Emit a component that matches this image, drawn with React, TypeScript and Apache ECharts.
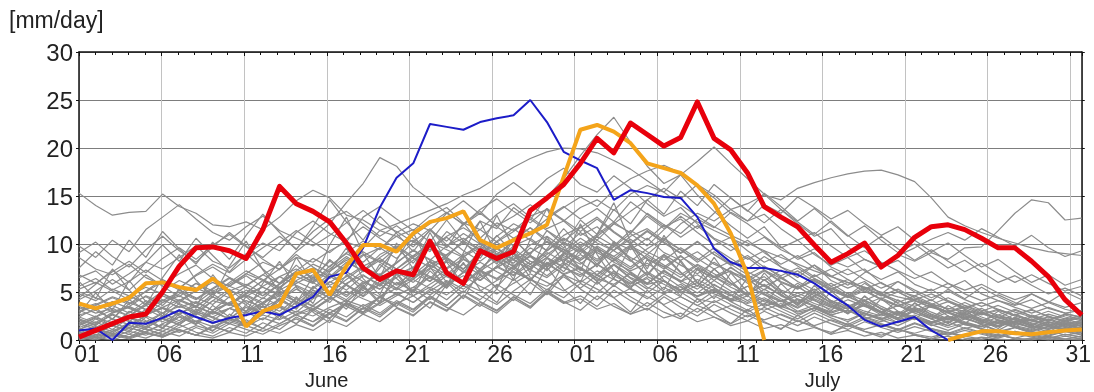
import React, { useEffect, useRef } from 'react';
import * as echarts from 'echarts';

const FONT = '"Liberation Sans", Arial, sans-serif';

// x tick labels (every 5 days), month names under the 16th
const dayTicks = ['01', '06', '11', '16', '21', '26', '01', '06', '11', '16', '21', '26', '31'];
const monthTicks: Record<number, string> = { 3: 'June', 9: 'July' };
const yUnit = '[mm/day]';

// Highlighted years (daily values, 1 June .. 31 July)
const red = [0.3, 1.0, 1.7, 2.4, 2.7, 5.0, 7.7, 9.6, 9.7, 9.3, 8.5, 11.5, 16.0, 14.2, 13.4, 12.3, 10.1, 7.5, 6.3, 7.2, 6.8, 10.3, 7.0, 5.9, 9.3, 8.5, 9.2, 13.5, 14.8, 16.2, 18.4, 21.0, 19.5, 22.6, 21.4, 20.2, 21.1, 24.8, 21.0, 19.8, 17.4, 13.9, 12.8, 11.8, 9.9, 8.1, 9.0, 10.1, 7.6, 8.8, 10.7, 11.8, 12.0, 11.5, 10.6, 9.6, 9.6, 8.2, 6.6, 4.2, 2.6];
const orange = [3.8, 3.3, 3.8, 4.4, 5.9, 6.0, 5.5, 5.2, 6.4, 5.0, 1.4, 3.0, 3.6, 6.9, 7.3, 4.7, 7.7, 9.9, 9.9, 9.2, 11.1, 12.3, 12.7, 13.4, 10.4, 9.6, 10.4, 11.1, 12.0, 17.0, 21.9, 22.4, 21.7, 20.5, 18.4, 17.9, 17.4, 16.1, 14.2, 11.1, 6.8, 0.0, null, null, null, null, null, null, null, null, null, null, 0.0, 0.5, 0.9, 0.9, 0.7, 0.6, 0.8, 1.0, 1.1];
const blue = [1.0, 1.2, 0.0, 1.8, 1.7, 2.3, 3.1, 2.4, 1.8, 2.3, 2.6, 3.0, 2.6, 3.5, 4.5, 6.6, 7.0, 9.6, 13.8, 16.9, 18.4, 22.5, 22.2, 21.9, 22.7, 23.1, 23.4, 25.0, 22.7, 19.6, 18.7, 17.9, 14.6, 15.6, 15.3, 14.9, 14.8, 12.8, 9.5, 8.1, 7.5, 7.5, 7.2, 6.8, 5.9, 4.7, 3.6, 2.1, 1.4, 1.9, 2.4, 1.0, 0.0, null, null, null, null, null, null, null, null];

// Other years (grey)
const g01 = [15.3, 14.0, 13.0, 13.3, 13.4, 15.2, 13.9, 13.2, 12.0, 11.8, 12.3, 11.5, 12.8, 14.5, 15.6, 14.8, 13.0, 12.5, 11.4, 10.8, 11.5, 10.2, 9.8, 10.6, 9.4, 8.8, 9.5, 8.2, 7.6, 8.4, 7.3, 6.8, 7.9, 6.5, 5.8, 6.2, 5.1, 4.6, 5.3, 4.2, 3.8, 4.4, 3.5, 2.9, 3.3, 2.6, 3.1, 2.4, 1.9, 2.6, 2.2, 1.8, 2.5, 1.6, 1.4, 2.1, 1.7, 1.3, 1.9, 1.5, 1.2];
const g02 = [9.8, 8.6, 10.4, 9.2, 11.5, 12.8, 14.1, 12.6, 11.2, 10.4, 11.8, 12.9, 11.4, 10.6, 9.8, 10.9, 12.2, 13.5, 12.1, 11.3, 10.2, 11.6, 9.9, 8.7, 9.6, 8.3, 7.4, 8.8, 7.9, 6.9, 7.6, 6.4, 5.8, 6.9, 5.5, 4.8, 5.6, 4.3, 3.9, 4.7, 3.6, 3.1, 3.8, 2.7, 3.3, 2.5, 2.1, 2.8, 2.3, 1.8, 2.4, 1.9, 1.5, 2.2, 1.7, 1.4, 1.9, 1.3, 1.6, 1.1, 1.4];
const g03 = [6.5, 7.2, 5.8, 6.9, 8.1, 7.4, 8.6, 9.8, 8.2, 7.5, 8.9, 10.1, 9.3, 11.2, 12.4, 11.1, 10.2, 12.8, 13.9, 12.6, 11.4, 12.9, 13.8, 12.2, 11.5, 13.1, 14.2, 12.8, 11.6, 12.4, 10.9, 11.8, 10.2, 9.4, 10.6, 9.1, 8.3, 9.2, 7.9, 7.1, 6.4, 7.3, 6.1, 5.4, 6.2, 5.1, 4.5, 5.3, 4.2, 3.6, 4.1, 3.4, 2.9, 3.6, 2.8, 2.3, 3.1, 2.5, 2.1, 2.7, 2.4];
const g04 = [2.1, 1.5, 2.8, 3.4, 2.6, 3.9, 4.6, 3.8, 5.1, 4.4, 5.6, 6.8, 5.9, 7.2, 8.5, 7.6, 9.1, 10.3, 9.4, 11.2, 12.1, 11.4, 13.2, 14.5, 13.1, 15.2, 16.4, 15.1, 16.8, 17.9, 16.2, 15.4, 17.1, 15.8, 14.2, 12.9, 13.8, 12.1, 10.6, 9.8, 8.4, 9.3, 7.6, 6.9, 7.8, 6.2, 5.4, 6.1, 4.8, 4.1, 3.5, 4.2, 3.1, 2.6, 3.3, 2.4, 1.9, 2.6, 2.1, 1.6, 1.9];
const g05 = [3.2, 3.8, 2.9, 3.5, 4.6, 3.9, 4.8, 5.9, 5.1, 5.8, 6.9, 6.2, 7.4, 8.6, 8.1, 9.3, 10.2, 9.6, 11.4, 12.1, 12.8, 13.5, 14.2, 15.1, 15.8, 16.9, 18.0, 18.9, 19.6, 20.0, 19.9, 19.5, 18.7, 17.8, 16.6, 15.4, 14.1, 12.9, 11.8, 10.9, 10.1, 9.3, 8.6, 7.9, 7.2, 6.6, 6.0, 5.5, 5.0, 4.5, 4.1, 3.7, 3.3, 3.0, 2.7, 2.4, 2.2, 2.0, 1.8, 1.6, 1.5];
const g06 = [1.2, 0.8, 1.6, 2.3, 1.9, 2.8, 3.5, 2.9, 4.1, 3.6, 4.8, 5.5, 4.6, 6.2, 7.1, 6.4, 7.8, 8.9, 8.1, 9.6, 10.4, 9.2, 11.3, 10.1, 12.4, 11.6, 13.8, 12.5, 14.9, 16.8, 19.2, 21.4, 23.2, 20.6, 18.1, 16.3, 17.2, 15.1, 13.4, 11.9, 10.6, 11.8, 9.7, 8.4, 9.1, 7.6, 6.8, 7.4, 5.9, 5.1, 4.6, 5.3, 4.1, 3.4, 3.9, 3.1, 2.6, 3.2, 2.4, 2.0, 2.3];
const g07 = [0.5, 1.1, 0.7, 1.8, 1.3, 2.2, 1.6, 2.9, 2.4, 3.3, 2.8, 3.9, 4.6, 3.7, 5.2, 4.4, 5.9, 6.8, 5.6, 7.3, 6.5, 7.9, 8.6, 7.4, 9.2, 8.1, 9.8, 10.6, 9.3, 10.9, 11.8, 10.4, 12.1, 11.2, 12.9, 11.6, 13.2, 12.3, 11.4, 10.6, 9.8, 10.7, 9.4, 8.6, 9.5, 8.3, 7.6, 8.4, 7.7, 8.9, 8.2, 9.1, 8.4, 9.6, 9.7, 11.4, 13.2, 14.6, 14.3, 12.5, 12.7];
const g08 = [1.8, 2.5, 1.4, 2.9, 3.6, 2.8, 4.1, 3.4, 4.8, 5.6, 4.9, 6.2, 5.4, 6.8, 7.5, 6.6, 8.1, 7.2, 8.9, 9.8, 8.7, 10.2, 9.4, 8.6, 10.1, 9.2, 8.4, 9.9, 10.8, 9.6, 11.2, 10.1, 9.3, 10.8, 11.6, 10.4, 12.1, 13.2, 12.4, 13.6, 14.2, 15.1, 14.6, 15.8, 16.4, 16.9, 17.3, 17.6, 17.7, 17.2, 16.5, 14.8, 12.8, 11.9, 11.2, 10.6, 10.1, 9.6, 9.2, 9.0, 8.8];
const g09 = [2.6, 3.1, 2.2, 3.8, 4.5, 3.6, 5.2, 4.4, 3.7, 5.1, 5.8, 4.9, 6.6, 7.4, 6.5, 8.2, 7.3, 8.8, 9.6, 8.5, 10.2, 9.4, 10.8, 11.7, 10.6, 12.2, 11.4, 12.9, 13.6, 12.4, 13.8, 14.6, 13.5, 15.2, 16.1, 15.4, 17.2, 18.6, 20.1, 18.4, 16.8, 15.2, 13.6, 12.1, 10.8, 11.6, 9.7, 8.4, 7.6, 8.3, 6.9, 6.1, 5.4, 6.2, 4.8, 4.1, 3.6, 4.2, 3.3, 2.8, 3.1];
const g10 = [0.3, 0.9, 0.4, 1.3, 0.8, 1.7, 2.4, 1.6, 2.9, 2.2, 3.4, 2.7, 4.1, 3.3, 4.8, 5.6, 4.5, 6.1, 5.3, 6.8, 7.6, 6.4, 8.2, 7.1, 8.8, 9.6, 8.4, 9.1, 10.3, 9.2, 10.6, 9.5, 8.7, 9.9, 8.4, 7.6, 8.8, 7.3, 6.5, 7.2, 5.9, 6.6, 5.2, 4.6, 5.3, 4.1, 3.5, 4.2, 3.2, 2.7, 3.3, 2.5, 2.1, 2.8, 1.9, 1.5, 2.2, 1.4, 1.1, 1.6, 1.2];
const g11 = [4.8, 4.1, 5.3, 4.6, 3.8, 5.1, 6.2, 5.4, 4.7, 6.0, 7.2, 6.3, 5.5, 6.8, 7.9, 7.1, 8.5, 7.6, 6.8, 8.1, 9.3, 8.4, 7.5, 8.9, 9.8, 8.6, 7.7, 9.1, 10.2, 9.4, 8.3, 9.6, 8.5, 7.4, 8.7, 7.6, 6.5, 7.8, 6.6, 5.7, 6.8, 5.6, 4.7, 5.9, 4.8, 3.9, 4.6, 3.7, 2.9, 3.6, 2.8, 2.2, 2.9, 2.3, 1.7, 2.4, 1.8, 1.3, 1.9, 1.4, 1.0];
const g12 = [1.5, 2.3, 1.8, 1.2, 2.6, 3.3, 2.5, 1.9, 3.1, 3.8, 3.0, 4.4, 3.6, 2.9, 4.3, 5.1, 4.2, 5.8, 6.9, 5.7, 6.4, 7.5, 6.6, 5.8, 7.2, 8.3, 7.1, 6.3, 7.8, 8.6, 7.4, 6.5, 7.9, 6.8, 5.9, 7.1, 6.2, 5.3, 6.6, 5.5, 4.7, 5.8, 4.6, 3.8, 4.9, 3.9, 3.2, 4.1, 3.3, 2.6, 3.4, 2.7, 2.1, 2.9, 2.2, 1.7, 2.3, 1.8, 1.4, 2.0, 1.6];
const g13 = [0.0, 0.4, 1.1, 0.6, 1.4, 0.9, 1.8, 2.5, 1.7, 2.3, 1.6, 2.8, 3.5, 2.6, 3.2, 4.4, 3.6, 4.9, 5.8, 4.7, 5.5, 6.6, 5.4, 7.1, 6.2, 7.6, 8.4, 7.3, 6.5, 7.8, 8.9, 7.8, 9.4, 10.5, 9.2, 8.3, 9.6, 8.5, 7.4, 8.2, 7.1, 6.2, 7.3, 6.1, 5.2, 5.9, 4.8, 4.1, 4.9, 3.8, 3.1, 3.7, 2.9, 2.3, 2.8, 2.1, 1.6, 2.2, 1.5, 1.2, 0.9];
const g14 = [8.6, 7.4, 6.8, 7.9, 6.5, 5.7, 6.9, 7.8, 6.4, 5.6, 6.7, 5.5, 4.8, 5.9, 6.8, 5.7, 6.6, 7.7, 8.5, 7.4, 8.8, 9.9, 8.6, 10.4, 11.5, 10.2, 11.3, 12.6, 11.4, 10.3, 11.7, 12.8, 11.3, 10.1, 11.4, 10.2, 9.1, 10.3, 8.9, 7.8, 8.6, 7.3, 6.4, 7.2, 6.1, 5.3, 6.0, 5.1, 4.3, 5.0, 4.1, 3.4, 4.0, 3.2, 2.6, 3.1, 2.5, 2.0, 2.4, 1.9, 1.5];
const g15 = [3.5, 2.8, 3.3, 2.5, 3.6, 4.2, 3.4, 4.0, 3.1, 3.9, 4.6, 3.7, 5.1, 4.3, 3.6, 4.8, 5.7, 4.9, 6.1, 5.2, 6.3, 5.4, 6.7, 7.9, 6.8, 7.5, 8.7, 7.6, 8.9, 10.1, 9.0, 10.4, 9.3, 8.2, 9.5, 10.6, 9.4, 8.1, 9.2, 7.9, 6.8, 7.7, 6.5, 5.4, 6.3, 5.2, 4.4, 5.1, 4.2, 3.5, 4.3, 3.6, 2.9, 3.4, 2.7, 3.2, 2.6, 2.1, 2.7, 2.2, 2.5];
const g16 = [0.8, 0.3, 0.9, 1.5, 1.1, 0.6, 1.3, 2.0, 1.4, 2.2, 1.8, 2.6, 2.1, 3.0, 2.5, 3.4, 4.1, 3.5, 4.4, 3.8, 4.6, 5.5, 4.7, 5.9, 5.1, 6.2, 7.1, 6.3, 5.6, 6.8, 6.0, 7.2, 6.3, 5.5, 6.6, 5.8, 4.9, 5.7, 4.8, 4.1, 4.9, 4.0, 3.4, 4.2, 3.5, 2.8, 3.4, 2.7, 2.1, 2.8, 2.2, 1.7, 2.3, 1.6, 1.2, 1.8, 1.3, 0.9, 1.4, 1.0, 0.7];
const g17 = [2.9, 3.6, 4.4, 3.7, 5.1, 6.3, 5.4, 6.8, 7.9, 7.0, 8.4, 9.6, 10.8, 9.5, 11.3, 12.6, 13.4, 12.1, 10.8, 11.9, 10.6, 9.4, 10.7, 9.3, 8.2, 9.5, 8.3, 7.4, 8.6, 7.5, 6.8, 7.9, 6.7, 5.8, 6.9, 6.1, 5.2, 6.0, 5.1, 4.3, 5.0, 4.2, 3.5, 4.3, 3.6, 2.9, 3.6, 2.8, 2.2, 2.9, 2.3, 1.8, 2.5, 1.9, 1.4, 2.0, 1.5, 1.1, 1.7, 1.3, 1.0];
const g18 = [5.6, 6.4, 5.2, 6.1, 7.3, 6.2, 5.4, 6.7, 7.6, 6.5, 5.7, 6.8, 7.9, 6.6, 5.9, 7.2, 8.3, 7.1, 8.6, 9.7, 8.5, 7.6, 8.9, 10.1, 9.0, 10.3, 11.6, 10.4, 9.3, 10.6, 9.5, 8.4, 9.8, 8.6, 7.7, 8.9, 7.8, 6.9, 8.1, 7.0, 6.1, 7.2, 6.0, 5.3, 6.4, 5.4, 4.6, 5.5, 4.7, 3.9, 4.6, 3.8, 3.2, 3.9, 3.1, 2.6, 3.2, 2.5, 2.0, 2.6, 2.1];
const g19 = [0.2, 0.6, 0.3, 0.9, 0.5, 1.2, 0.8, 1.5, 1.0, 1.9, 1.4, 2.3, 1.7, 2.7, 3.5, 2.8, 3.9, 3.2, 4.5, 5.4, 4.6, 5.8, 6.9, 5.9, 7.2, 6.3, 7.6, 8.7, 7.8, 9.0, 10.2, 9.1, 8.2, 9.6, 8.5, 7.4, 8.7, 7.6, 6.6, 7.5, 6.5, 5.6, 6.4, 5.5, 4.6, 5.4, 4.5, 3.7, 4.4, 3.6, 2.9, 3.5, 2.8, 2.2, 2.9, 2.3, 1.8, 2.4, 1.9, 1.4, 1.8];
const g20 = [6.8, 5.9, 7.1, 8.2, 7.0, 8.5, 9.6, 8.4, 9.9, 11.0, 9.7, 8.6, 10.1, 11.4, 10.2, 9.1, 10.5, 11.8, 10.6, 9.5, 10.9, 12.1, 13.3, 12.0, 13.6, 14.7, 13.4, 12.2, 13.7, 12.5, 11.3, 12.6, 11.2, 10.0, 11.3, 10.1, 9.0, 10.2, 8.9, 7.9, 8.8, 7.6, 6.7, 7.5, 6.4, 5.6, 6.3, 5.4, 4.6, 5.3, 4.4, 3.7, 4.4, 3.6, 3.0, 3.6, 2.9, 2.4, 3.0, 2.4, 2.0];
const g21 = [1.9, 1.3, 2.2, 1.6, 2.5, 1.9, 2.8, 3.5, 2.7, 3.3, 4.1, 3.4, 4.2, 5.3, 4.4, 5.6, 4.7, 5.9, 6.8, 5.8, 7.0, 6.1, 7.4, 8.5, 7.3, 6.4, 7.7, 8.8, 7.6, 8.9, 9.8, 11.0, 12.3, 11.1, 13.2, 12.0, 10.7, 11.9, 10.5, 9.3, 10.4, 9.1, 7.9, 8.8, 7.5, 6.6, 7.4, 6.3, 5.4, 6.1, 5.2, 4.4, 5.1, 4.2, 3.5, 4.1, 3.4, 2.8, 3.4, 2.8, 2.3];
const g22 = [3.8, 3.1, 4.0, 3.3, 2.6, 3.4, 2.7, 3.6, 4.5, 3.7, 3.0, 3.9, 4.8, 4.0, 3.2, 4.2, 5.1, 4.3, 3.6, 4.6, 5.5, 4.7, 5.8, 6.7, 5.6, 4.8, 5.9, 6.9, 6.0, 5.1, 6.2, 5.3, 4.4, 5.4, 4.5, 3.7, 4.5, 3.6, 2.9, 3.6, 2.8, 2.1, 2.7, 2.0, 1.5, 2.1, 1.6, 1.1, 1.6, 1.1, 0.7, 1.2, 0.8, 0.4, 0.9, 0.5, 0.2, 0.6, 0.3, 0.1, 0.4];
const g23 = [2.4, 1.8, 2.9, 3.5, 2.7, 3.4, 4.2, 3.5, 2.8, 3.9, 4.7, 3.9, 5.2, 6.1, 5.3, 6.6, 5.8, 7.2, 8.3, 7.4, 8.6, 9.7, 8.8, 10.3, 9.4, 10.8, 12.1, 11.2, 12.6, 13.8, 14.9, 13.9, 15.6, 16.8, 17.6, 18.2, 17.4, 16.1, 14.8, 13.2, 12.1, 10.8, 9.6, 10.4, 8.9, 7.8, 8.6, 7.2, 6.3, 7.1, 5.8, 5.1, 5.9, 4.8, 4.1, 4.7, 3.9, 3.3, 3.9, 3.2, 2.8];
const g24 = [0.6, 1.2, 0.7, 0.3, 0.9, 1.6, 1.0, 0.5, 1.3, 2.1, 1.5, 0.9, 1.7, 2.6, 1.9, 2.8, 3.7, 2.9, 3.9, 4.8, 3.9, 5.1, 6.2, 5.3, 6.5, 7.6, 6.7, 7.9, 9.1, 8.2, 9.6, 10.8, 12.1, 13.4, 14.6, 15.8, 14.7, 16.2, 15.1, 13.6, 12.4, 13.1, 11.6, 10.4, 11.2, 9.8, 8.6, 9.3, 8.1, 7.2, 6.4, 7.1, 5.9, 5.2, 5.8, 4.9, 4.2, 4.8, 4.0, 3.4, 3.9];
const g25 = [1.6, 2.4, 3.1, 2.5, 3.8, 4.6, 3.9, 5.2, 6.3, 5.6, 6.9, 8.1, 7.4, 9.2, 10.6, 12.1, 14.3, 16.3, 19.0, 18.1, 15.9, 14.6, 13.2, 12.1, 13.4, 11.8, 10.6, 11.7, 10.2, 9.1, 8.3, 9.4, 8.1, 7.2, 8.0, 6.9, 6.1, 6.8, 5.7, 4.9, 5.6, 4.7, 4.0, 4.6, 3.8, 3.2, 3.7, 3.0, 2.5, 3.0, 2.4, 1.9, 2.4, 1.8, 1.4, 1.9, 1.4, 1.0, 1.4, 1.1, 0.8];
const g26 = [0.1, 0.5, 1.6, 0.8, 2.4, 1.2, 3.1, 1.9, 0.9, 2.7, 1.5, 3.6, 2.2, 4.5, 2.9, 1.8, 3.9, 5.6, 3.8, 6.9, 4.6, 3.3, 5.8, 8.1, 5.2, 3.9, 6.4, 4.7, 7.6, 5.3, 3.8, 6.1, 4.4, 2.9, 5.2, 3.6, 2.4, 4.3, 2.8, 1.7, 3.2, 1.9, 1.1, 2.6, 1.4, 0.6, 1.8, 0.9, 0.3, 1.2, 0.5, 0.1, 0.8, 0.2, 0.0, 0.6, 0.1, 0.0, 0.4, 0.0, 0.2];
const g27 = [2.4, 3.3, 2.1, 4.2, 3.1, 4.9, 3.7, 2.6, 4.1, 5.3, 3.9, 2.7, 4.4, 3.2, 5.6, 4.3, 6.8, 5.1, 7.9, 6.4, 4.9, 7.2, 5.6, 8.8, 6.9, 9.7, 7.8, 6.1, 8.5, 7.1, 9.4, 7.6, 10.3, 8.4, 6.8, 8.9, 7.1, 5.6, 7.4, 5.9, 4.7, 6.3, 4.8, 3.6, 5.1, 3.8, 2.7, 4.0, 2.9, 2.1, 3.1, 2.2, 1.5, 2.4, 1.6, 1.0, 1.9, 1.2, 0.7, 1.3, 0.9];
const g28 = [4.2, 5.1, 6.3, 5.2, 6.8, 5.6, 4.5, 5.9, 4.8, 3.7, 4.9, 6.2, 5.1, 4.0, 5.4, 6.9, 5.7, 4.5, 5.8, 7.1, 6.0, 7.4, 8.6, 7.3, 6.2, 7.7, 9.1, 7.9, 6.7, 8.1, 7.0, 5.8, 7.2, 6.1, 4.9, 6.2, 5.0, 3.9, 5.1, 4.0, 3.1, 4.2, 3.3, 2.5, 3.4, 2.6, 1.9, 2.8, 2.1, 1.5, 2.3, 1.6, 1.0, 1.7, 1.1, 0.7, 1.3, 0.8, 0.4, 0.9, 0.5];
const g29 = [0.9, 0.2, 0.7, 0.3, 1.2, 0.5, 1.6, 0.8, 0.4, 1.3, 0.7, 1.8, 1.1, 2.4, 1.5, 2.9, 2.0, 3.4, 2.6, 3.9, 3.1, 4.5, 3.6, 5.1, 4.2, 5.8, 4.7, 3.8, 5.3, 4.4, 5.9, 4.9, 6.4, 5.3, 4.3, 5.5, 4.5, 3.6, 4.6, 3.7, 2.9, 3.8, 3.0, 2.2, 3.1, 2.3, 1.6, 2.4, 1.7, 1.1, 1.8, 1.2, 0.7, 1.3, 0.8, 0.4, 0.9, 0.5, 0.2, 0.6, 0.3];
const g30 = [9.1, 10.2, 8.7, 7.6, 9.4, 10.8, 9.3, 8.1, 9.7, 11.2, 9.8, 8.4, 7.3, 8.9, 7.6, 6.5, 7.8, 9.2, 8.1, 7.0, 8.3, 9.7, 8.5, 7.4, 8.8, 10.2, 9.0, 7.9, 9.3, 10.6, 9.4, 8.2, 9.7, 11.1, 9.8, 11.5, 12.9, 11.6, 13.2, 14.8, 13.5, 12.2, 13.6, 12.3, 11.0, 12.4, 10.9, 9.6, 10.8, 9.5, 8.3, 9.4, 8.2, 7.1, 8.0, 6.9, 6.0, 6.8, 5.9, 5.1, 5.6];
const g31 = [1.3, 1.9, 1.1, 2.3, 1.6, 2.8, 2.0, 3.2, 2.4, 1.7, 2.6, 3.5, 2.7, 3.9, 3.0, 4.4, 3.5, 2.7, 3.8, 4.9, 3.9, 5.3, 4.2, 5.7, 4.6, 3.7, 5.1, 6.3, 5.2, 6.6, 5.4, 6.8, 5.6, 7.1, 5.9, 7.3, 6.1, 7.5, 6.2, 7.6, 6.3, 5.2, 6.6, 5.4, 6.8, 5.6, 4.6, 5.9, 4.8, 6.1, 5.0, 4.1, 5.3, 4.3, 5.5, 4.5, 3.7, 4.8, 3.9, 5.0, 4.2];
const g32 = [7.5, 9.2, 7.8, 10.4, 8.6, 11.3, 9.5, 7.9, 10.2, 8.4, 10.9, 13.1, 11.2, 9.4, 11.8, 14.6, 12.3, 10.4, 12.9, 11.1, 9.2, 11.5, 9.6, 12.2, 10.1, 8.4, 10.6, 8.7, 7.2, 9.1, 7.5, 6.2, 7.8, 6.4, 5.3, 6.7, 5.5, 4.5, 5.8, 4.7, 3.9, 5.0, 4.1, 3.3, 4.3, 3.5, 2.8, 3.7, 2.9, 2.3, 3.0, 2.4, 1.8, 2.5, 1.9, 1.4, 2.0, 1.5, 1.1, 1.6, 1.2];
const g33 = [0.4, 0.1, 0.6, 0.2, 0.8, 0.3, 1.1, 0.5, 1.5, 0.8, 2.1, 1.2, 2.7, 1.7, 3.3, 2.3, 3.9, 2.9, 4.6, 3.5, 5.3, 4.2, 6.1, 4.9, 6.8, 5.5, 7.4, 6.2, 8.1, 6.8, 7.5, 6.1, 7.0, 5.6, 6.4, 5.0, 5.8, 4.5, 5.2, 4.0, 4.6, 3.5, 4.1, 3.0, 3.6, 2.6, 3.1, 2.2, 2.7, 1.8, 2.3, 1.5, 1.9, 1.2, 1.6, 0.9, 1.3, 0.7, 1.0, 0.5, 0.8];
const g34 = [3.1, 2.4, 3.6, 2.8, 4.1, 3.3, 2.6, 3.9, 3.1, 4.5, 3.7, 5.0, 4.1, 5.6, 4.6, 6.1, 5.2, 6.7, 5.8, 7.2, 6.3, 7.8, 6.8, 8.4, 7.4, 9.0, 8.0, 9.6, 8.6, 10.2, 9.2, 10.8, 9.8, 11.4, 10.4, 12.0, 11.1, 12.6, 11.7, 13.3, 12.4, 14.1, 13.2, 14.9, 13.8, 12.6, 13.5, 12.1, 10.9, 11.8, 10.4, 9.2, 10.1, 8.8, 7.6, 8.4, 7.1, 6.0, 6.8, 5.7, 6.3];
const g35 = [0.7, 1.4, 0.9, 1.8, 1.2, 2.3, 1.6, 2.8, 2.0, 3.3, 2.5, 3.8, 3.0, 4.3, 3.5, 4.9, 4.0, 5.4, 4.5, 6.0, 5.1, 6.6, 5.6, 7.1, 6.2, 7.7, 6.8, 8.2, 7.3, 8.8, 7.9, 9.3, 8.4, 9.8, 8.9, 10.4, 9.4, 8.3, 9.6, 8.5, 7.4, 8.7, 7.6, 6.5, 7.8, 6.7, 5.7, 7.0, 7.9, 8.8, 9.6, 10.5, 11.2, 10.4, 11.6, 10.7, 9.8, 10.9, 9.6, 8.7, 9.3];
const g36 = [2.2, 1.6, 2.7, 2.0, 1.4, 2.5, 1.8, 3.0, 2.3, 1.7, 2.9, 2.1, 3.4, 2.6, 1.9, 3.2, 2.4, 3.7, 2.8, 4.1, 3.2, 4.6, 3.6, 5.1, 4.0, 3.1, 4.5, 3.4, 4.9, 3.8, 4.3, 3.2, 3.8, 2.7, 3.3, 2.3, 2.8, 1.9, 2.4, 1.5, 2.0, 1.2, 1.6, 0.9, 1.3, 0.6, 1.0, 0.4, 0.8, 0.2, 0.5, 0.1, 0.4, 0.0, 0.3, 0.1, 0.0, 0.2, 0.0, 0.1, 0.0];
const g37 = [1.1, 1.7, 2.6, 1.9, 3.2, 2.4, 3.8, 3.0, 4.5, 3.6, 5.2, 4.3, 5.9, 7.1, 6.0, 7.7, 9.0, 8.1, 9.6, 10.8, 9.7, 11.4, 10.3, 12.0, 13.2, 11.9, 12.9, 14.1, 12.8, 13.9, 12.6, 13.7, 12.3, 14.4, 13.1, 11.8, 12.6, 11.2, 9.9, 10.7, 9.3, 8.1, 8.9, 7.7, 6.6, 7.4, 6.3, 5.3, 6.0, 5.0, 4.2, 4.8, 4.0, 3.3, 3.9, 3.2, 2.6, 3.1, 2.5, 2.0, 2.4];
const g38 = [5.0, 4.4, 3.7, 4.6, 5.5, 4.8, 4.1, 5.1, 6.0, 5.2, 4.5, 5.6, 6.6, 5.7, 4.9, 6.0, 7.1, 6.1, 5.3, 6.5, 7.6, 6.6, 5.8, 7.0, 8.1, 7.1, 6.2, 7.5, 8.6, 7.6, 6.6, 7.9, 6.9, 5.9, 7.1, 6.1, 5.2, 6.3, 5.4, 4.6, 5.6, 4.8, 4.0, 4.9, 4.1, 3.4, 4.2, 3.5, 2.9, 3.6, 3.0, 2.4, 3.1, 2.5, 2.0, 2.6, 2.1, 1.6, 2.2, 1.7, 2.0];
const g39 = [0.0, 0.3, 0.0, 0.6, 0.2, 0.9, 0.4, 1.3, 0.7, 1.7, 1.1, 0.6, 1.5, 2.2, 1.4, 2.7, 1.9, 3.3, 2.4, 3.8, 2.9, 4.4, 3.4, 2.6, 3.9, 3.0, 4.5, 3.5, 5.1, 4.0, 3.1, 4.6, 3.5, 2.7, 3.9, 2.9, 2.2, 3.3, 2.4, 1.7, 2.6, 1.8, 1.2, 2.0, 1.3, 0.8, 1.5, 0.9, 0.5, 1.1, 0.6, 0.3, 0.8, 0.4, 0.1, 0.5, 0.2, 0.0, 0.3, 0.1, 0.0];
const g40 = [3.0, 3.7, 4.5, 3.9, 3.2, 4.1, 5.0, 4.2, 5.3, 6.4, 5.5, 4.6, 5.8, 7.0, 6.1, 7.4, 8.7, 7.6, 6.7, 8.0, 9.4, 8.3, 9.8, 11.1, 10.0, 8.9, 10.3, 11.7, 10.5, 9.4, 8.5, 9.8, 8.7, 7.6, 8.9, 7.8, 6.8, 7.9, 6.9, 5.9, 4.8, 5.7, 4.7, 3.8, 4.6, 3.7, 2.9, 3.6, 2.8, 2.1, 2.6, 1.9, 1.3, 1.8, 1.2, 0.8, 1.3, 0.9, 0.5, 0.9, 0.6];
const g41 = [2.7, 4.9, 3.1, 6.2, 4.0, 2.5, 5.4, 3.3, 6.8, 4.6, 2.9, 5.9, 8.2, 5.5, 3.8, 7.1, 9.6, 6.4, 4.7, 8.3, 11.2, 7.6, 5.4, 9.1, 12.4, 8.8, 6.3, 10.5, 13.7, 9.9, 7.2, 11.0, 14.3, 10.2, 7.4, 10.9, 8.1, 5.9, 8.6, 6.2, 4.5, 7.0, 5.1, 3.6, 5.7, 4.0, 2.8, 4.6, 3.2, 2.2, 3.9, 2.6, 1.7, 3.1, 2.0, 1.2, 2.4, 1.5, 0.8, 1.8, 1.1];
const g42 = [6.1, 4.3, 7.4, 5.2, 3.6, 6.5, 8.9, 6.2, 4.4, 7.7, 10.3, 7.3, 5.1, 8.6, 6.0, 9.9, 12.8, 9.0, 6.5, 10.1, 7.4, 11.2, 8.1, 5.8, 9.5, 13.0, 9.6, 7.0, 10.8, 8.0, 12.1, 8.9, 6.4, 9.8, 7.1, 5.2, 8.3, 6.0, 4.3, 7.0, 5.0, 3.6, 5.9, 4.2, 3.0, 5.1, 3.6, 2.5, 4.3, 3.0, 2.1, 3.7, 2.5, 1.7, 3.0, 2.0, 1.3, 2.5, 1.6, 1.0, 1.9];
const g43 = [1.0, 2.2, 1.4, 3.0, 2.0, 1.2, 2.7, 1.7, 3.6, 2.4, 4.5, 3.0, 5.5, 3.8, 6.6, 4.6, 3.2, 5.7, 4.0, 7.0, 5.0, 8.3, 6.0, 4.3, 7.3, 5.3, 9.0, 6.5, 4.8, 8.0, 6.0, 9.7, 7.2, 5.3, 8.4, 6.2, 4.6, 7.4, 5.5, 4.0, 6.5, 4.8, 3.5, 5.7, 4.2, 3.0, 4.9, 3.6, 2.6, 4.2, 3.1, 2.2, 3.6, 2.6, 1.8, 3.0, 2.1, 1.4, 2.5, 1.8, 1.2];
const g44 = [4.4, 5.8, 7.3, 6.0, 8.1, 9.9, 8.2, 10.6, 8.8, 7.1, 9.0, 7.4, 5.9, 7.8, 6.3, 8.4, 6.9, 5.5, 7.5, 9.6, 8.0, 10.2, 12.5, 10.3, 8.5, 10.9, 9.0, 7.3, 9.5, 11.6, 9.7, 7.9, 10.1, 8.3, 6.7, 8.7, 7.0, 5.6, 7.4, 5.9, 4.7, 6.3, 5.0, 3.9, 5.3, 4.1, 3.2, 4.5, 3.5, 2.7, 3.8, 2.9, 2.2, 3.2, 2.4, 1.8, 2.7, 2.0, 1.5, 2.2, 1.7];
const g45 = [0.5, 0.9, 1.5, 1.0, 1.9, 1.3, 2.4, 1.7, 3.0, 2.2, 3.6, 2.7, 4.3, 3.3, 5.0, 3.9, 5.8, 4.6, 6.6, 5.3, 7.5, 6.1, 8.4, 7.0, 9.4, 7.9, 10.4, 8.9, 11.4, 9.9, 12.5, 11.0, 13.6, 12.1, 14.6, 13.1, 15.5, 14.0, 16.2, 14.8, 13.4, 15.3, 13.9, 12.4, 13.7, 12.2, 10.8, 11.9, 10.4, 9.1, 10.0, 8.7, 7.5, 8.3, 7.1, 6.0, 6.7, 5.7, 4.8, 5.4, 4.6];
const g46 = [1.7, 1.1, 0.6, 1.3, 0.8, 0.4, 1.0, 0.5, 1.4, 0.9, 1.9, 1.2, 2.5, 1.7, 3.1, 2.2, 3.8, 2.8, 4.5, 3.4, 2.6, 3.9, 3.0, 4.6, 3.5, 5.3, 4.1, 6.0, 4.7, 6.8, 5.3, 4.2, 5.7, 4.5, 3.5, 4.8, 3.8, 2.9, 4.1, 3.2, 2.4, 3.4, 2.6, 1.9, 2.8, 2.0, 1.4, 2.2, 1.6, 1.0, 1.7, 1.1, 0.6, 1.2, 0.7, 0.3, 0.9, 0.4, 0.1, 0.6, 0.3];
const g47 = [5.3, 6.0, 5.1, 4.2, 5.0, 6.1, 5.2, 4.3, 5.4, 6.5, 5.5, 4.6, 5.8, 7.0, 6.0, 5.0, 6.3, 7.6, 6.5, 5.4, 6.8, 8.2, 7.0, 5.9, 7.4, 8.9, 7.6, 6.3, 7.9, 9.5, 8.1, 6.8, 8.4, 7.0, 5.8, 7.2, 6.0, 4.9, 6.2, 5.1, 4.1, 5.3, 4.3, 3.4, 4.5, 3.6, 2.8, 3.8, 3.0, 2.3, 3.2, 2.5, 1.9, 2.7, 2.1, 1.5, 2.3, 1.7, 1.2, 1.9, 1.4];
const g48 = [0.3, 0.0, 0.5, 0.1, 0.7, 0.3, 1.0, 0.5, 0.2, 0.8, 0.4, 1.2, 0.7, 1.6, 1.0, 2.1, 1.4, 2.7, 1.9, 3.3, 2.5, 4.0, 3.1, 4.7, 3.7, 2.8, 4.3, 3.3, 5.0, 3.9, 4.6, 3.5, 5.2, 4.1, 3.1, 4.5, 3.4, 2.5, 3.7, 2.8, 2.0, 3.0, 2.2, 1.5, 2.4, 1.7, 1.1, 1.9, 1.3, 0.8, 1.4, 0.9, 0.5, 1.0, 0.6, 0.2, 0.7, 0.3, 0.0, 0.4, 0.1];

const greyYears = [g01, g02, g03, g04, g05, g06, g07, g08, g09, g10, g11, g12, g13, g14, g15, g16, g17, g18, g19, g20,
  g21, g22, g23, g24, g25, g26, g27, g28, g29, g30, g31, g32, g33, g34, g35, g36, g37, g38, g39, g40,
  g41, g42, g43, g44, g45, g46, g47, g48];

const toPairs = (arr: (number | null)[]) => arr.map((v, i) => [i, v === null ? '-' : v]);

export default function App() {
  const ref = useRef<HTMLDivElement>(null);
  useEffect(() => {
    if (!ref.current) return;
    const chart = echarts.init(ref.current, null, { renderer: 'svg' });
    const greySeries = greyYears.map((arr) => ({
      type: 'line', xAxisIndex: 1, yAxisIndex: 0, data: toPairs(arr),
      symbol: 'none', silent: true, z: 2,
      lineStyle: { color: '#8c8c8c', width: 1.2 },
      emphasis: { disabled: true },
    }));
    const labelAxisBase = { type: 'value', min: 0, max: 60.7, interval: 5 };
    const option: any = {
      animation: false,
      textStyle: { fontFamily: FONT },
      grid: { left: 79, top: 52, right: 6, bottom: 52, containLabel: false },
      xAxis: [
        {
          ...labelAxisBase, position: 'bottom',
          axisLine: { show: true, onZero: false, lineStyle: { color: '#111', width: 1.5 } },
          axisTick: { show: true, length: 4, lineStyle: { color: '#111' } },
          minorTick: { show: true, splitNumber: 5, length: 3, lineStyle: { color: '#111' } },
          splitLine: { show: true, lineStyle: { color: '#c2c2c2', width: 1 } },
          axisLabel: {
            margin: 2, color: '#222', fontFamily: FONT,
            formatter: (v: number) => `{d|${dayTicks[Math.round(v / 5)] ?? ''}}`,
            rich: { d: { fontSize: 23, lineHeight: 23, color: '#222', fontFamily: FONT, padding: [0, 0, 0, 16] } },
          },
        },
        { type: 'value', min: 0, max: 60, show: false, position: 'bottom' },
        {
          ...labelAxisBase, position: 'top',
          axisLine: { show: true, onZero: false, lineStyle: { color: '#111', width: 1.5 } },
          axisTick: { show: true, inside: true, length: 4, lineStyle: { color: '#111' } },
          minorTick: { show: true, splitNumber: 5, length: 3, lineStyle: { color: '#111' } },
          splitLine: { show: false },
          axisLabel: { show: false },
        },
        {
          ...labelAxisBase, position: 'bottom',
          axisLine: { show: false }, axisTick: { show: false }, splitLine: { show: false },
          axisLabel: {
            margin: 30, fontSize: 20, lineHeight: 20, color: '#222', fontFamily: FONT,
            formatter: (v: number) => monthTicks[Math.round(v / 5)] ?? '',
          },
        },
      ],
      yAxis: [
        {
          type: 'value', min: 0, max: 30, interval: 5, position: 'left',
          axisLine: { show: true, onZero: false, lineStyle: { color: '#111', width: 1.5 } },
          axisTick: { show: true, length: 3, lineStyle: { color: '#111' } },
          splitLine: { show: true, lineStyle: { color: '#7d7d7d', width: 1.2 } },
          axisLabel: { fontSize: 24, color: '#222', margin: 6, fontFamily: FONT },
        },
        {
          type: 'value', min: 0, max: 30, interval: 5, position: 'right',
          axisLine: { show: true, onZero: false, lineStyle: { color: '#111', width: 1.5 } },
          axisTick: { show: true, length: 3, lineStyle: { color: '#111' } },
          splitLine: { show: false },
          axisLabel: { show: false },
        },
      ],
      graphic: [
        {
          type: 'text', left: 9, top: 8,
          style: { text: yUnit, fontSize: 23, fill: '#222', fontFamily: FONT },
        },
      ],
      series: [
        ...greySeries,
        {
          type: 'line', xAxisIndex: 1, yAxisIndex: 0, data: toPairs(blue), symbol: 'none', z: 3,
          lineStyle: { color: '#1c1cc8', width: 2 }, emphasis: { disabled: true },
        },
        {
          type: 'line', xAxisIndex: 1, yAxisIndex: 0, data: toPairs(orange), symbol: 'none', z: 4,
          lineStyle: { color: '#f4a41a', width: 4 }, emphasis: { disabled: true },
        },
        {
          type: 'line', xAxisIndex: 1, yAxisIndex: 0, data: toPairs(red), symbol: 'none', z: 5,
          lineStyle: { color: '#e8000b', width: 5, join: 'round' }, emphasis: { disabled: true },
        },
      ],
    };
    chart.setOption(option);
    return () => chart.dispose();
  }, []);
  return <div ref={ref} style={{ position: 'fixed', left: 0, top: 0, width: 1094, height: 392 }} />;
}
